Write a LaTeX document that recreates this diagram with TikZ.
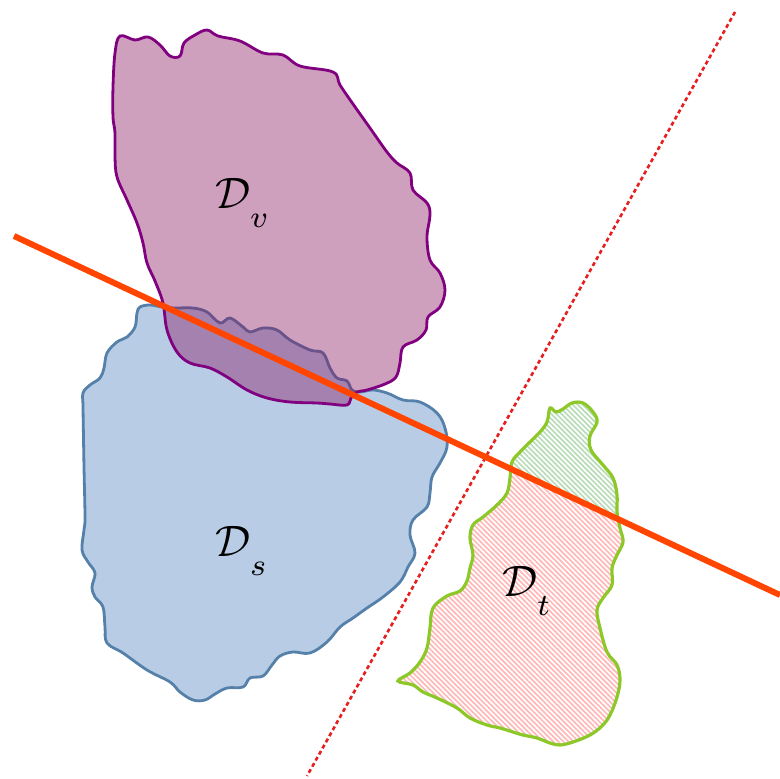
\documentclass[tikz,border=0pt]{standalone}
\usetikzlibrary{patterns.meta}

\definecolor{viewline}{RGB}{128,0,128}
\definecolor{viewfill}{RGB}{135,17,92}
\definecolor{srcline}{RGB}{85,128,170}
\definecolor{srcfill}{RGB}{184,205,229}
\definecolor{tgtline}{RGB}{140,200,40}
\definecolor{cutline}{RGB}{255,69,0}
\definecolor{sepline}{RGB}{230,30,30}

\newcommand{\dom}[1]{$\mathcal{D}_{\raisebox{-3pt}{$\scriptstyle #1$}}$}

\begin{document}
\begin{tikzpicture}[x=1pt, y=-1pt,
    srcdom/.style={draw=srcline, fill=srcfill, line width=2.8pt},
    viewdom/.style={draw=viewline, line width=2.8pt, fill=viewfill, fill opacity=0.4},
    tgtdom/.style={draw=tgtline, line width=3.2pt},
    domlabel/.style={anchor=base west, inner sep=0pt, scale=4.4, transform shape}]
  \useasboundingbox (0,0) rectangle (780,779);

  \coordinate (L1) at (14,236);
  \coordinate (L2) at (780,595);
  \coordinate (S1) at (735,12);
  \coordinate (S2) at (307,776);

  \def\tgtpath{plot[smooth cycle, tension=0.6] coordinates {
    (550,408) (556,412) (563,409) (572,403) (583,403) (593,412) (597,422)
    (590,436) (591,450) (603,465) (613,478) (617,495) (617,512) (620,528)
    (623,542) (617,555) (612,568) (612,585) (603,598) (597,610) (600,628)
    (607,652) (617,665) (620,680) (617,697) (610,715) (602,726) (590,735)
    (573,742) (560,745) (550,743) (537,738) (523,735) (513,732) (500,728)
    (487,725) (470,718) (457,708) (437,698) (423,692) (413,685) (398,681)
    (410,673) (420,662) (427,648) (430,628) (433,608) (447,596) (460,591)
    (467,581) (470,568) (473,555) (470,538) (473,525) (483,517) (497,505)
    (507,493) (510,478) (512,462) (520,452) (530,442) (540,432) (547,422)}}

  % source domain
  \draw[srcdom] plot[smooth cycle, tension=0.6] coordinates {
    (137,313) (140,307) (150,305) (162,307) (175,308) (193,308) (207,312)
    (220,323) (230,318) (243,327) (250,332) (263,328) (277,330) (290,340)
    (310,350) (323,353) (330,368) (337,378) (347,381) (352,390) (360,392)
    (373,390) (387,393) (403,400) (420,402) (437,413) (445,428) (447,447)
    (440,463) (432,477) (430,493) (427,507) (413,520) (410,535) (415,553)
    (408,567) (400,582) (383,597) (367,608) (353,618) (340,627) (327,642)
    (310,653) (293,652) (280,656) (272,665) (263,676) (250,678) (243,687)
    (227,688) (215,694) (205,700) (193,700) (180,692) (170,682) (147,670)
    (123,653) (107,643) (105,627) (103,607) (95,597) (92,587) (95,573)
    (88,562) (82,550) (84,530) (85,517) (84,467) (83,407) (83,393)
    (90,385) (100,378) (104,368) (107,353) (117,342) (127,337) (135,327)};

  % view domain
  \draw[viewdom] plot[smooth cycle, tension=0.6] coordinates {
    (120,36) (135,40) (148,37) (160,45) (170,56) (180,56) (184,43)
    (195,35) (207,30) (218,36) (240,41) (263,53) (283,55) (300,66)
    (333,72) (340,85) (353,104) (370,128) (387,152) (397,163) (410,173)
    (413,190) (427,203) (430,215) (427,237) (430,260) (440,273) (445,290)
    (440,307) (428,317) (426,330) (417,340) (403,347) (400,363) (396,377)
    (385,384) (367,390) (357,392) (351,398) (347,405) (330,404) (317,403)
    (290,402) (267,398) (247,390) (227,377) (210,368) (190,363) (177,352)
    (167,330) (163,303) (155,281) (147,263) (143,243) (137,223) (127,200)
    (117,177) (115,157) (115,133) (113,117) (113,87) (115,53)};

  % target domain, split by the cut line
  \begin{scope}
    \clip (L1) -- (L2) -- (780,0) -- (0,0) -- cycle;
    \fill[pattern={Lines[angle=-45, distance=3.6pt, line width=1.7pt]},
      pattern color=green!50!black!28] \tgtpath;
  \end{scope}
  \begin{scope}
    \clip (L1) -- (L2) -- (780,779) -- (0,779) -- cycle;
    \fill[pattern={Lines[angle=-45, distance=3.6pt, line width=1.7pt]},
      pattern color=red!28] \tgtpath;
  \end{scope}
  \draw[tgtdom] \tgtpath;

  \draw[sepline, line width=2.6pt, dash pattern=on 4pt off 3pt] (S1) -- (S2);
  \draw[cutline, line width=6pt] (L1) -- (L2);

  \node[domlabel] (Dv) at (215,208) {\dom{v}};
  \node[domlabel] (Ds) at (215,556) {\dom{s}};
  \node[domlabel] (Dt) at (502,596) {\dom{t}};
\end{tikzpicture}
\end{document}
